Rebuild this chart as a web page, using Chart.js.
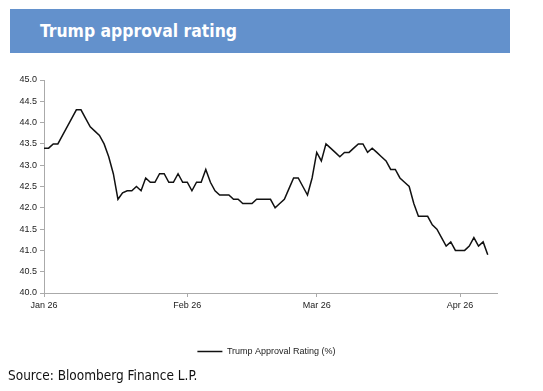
<!DOCTYPE html>
<html>
<head>
<meta charset="utf-8">
<script src="https://cdn.jsdelivr.net/npm/chart.js@4/dist/chart.umd.min.js"></script>
<style>
  body { margin: 0; width: 543px; height: 391px; background: #fff; position: relative; overflow: hidden; }
  #banner { position: absolute; left: 10px; top: 9px; width: 500px; height: 44px; background: #6391cc; }
  #banner span { position: absolute; left: 30px; top: 12px; color: #fff; font: bold 17.4px "DejaVu Sans"; font-stretch: condensed; }
  #wrap { position: absolute; left: 0; top: 0; width: 543px; height: 370px; }
  #source { position: absolute; left: 8px; top: 367px; font: 13.5px "DejaVu Sans"; font-stretch: condensed; color: #111; }
</style>
</head>
<body>
<div id="banner"><span>Trump approval rating</span></div>
<div id="wrap"><canvas id="approvalChart"></canvas></div>
<div id="source">Source: Bloomberg Finance L.P.</div>
<script>
// days since Jan 26, one reading per day
var seriesName = 'Trump Approval Rating (%)';
var approval = [
  43.4, 43.4, 43.5, 43.5, 43.7, 43.9, 44.1, 44.3, 44.3, 44.1,
  43.9, 43.8, 43.7, 43.5, 43.2, 42.8, 42.2, 42.35, 42.4, 42.4,
  42.5, 42.4, 42.7, 42.6, 42.6, 42.8, 42.8, 42.6, 42.6, 42.8,
  42.6, 42.6, 42.4, 42.6, 42.6, 42.9, 42.6, 42.4, 42.3, 42.3,
  42.3, 42.2, 42.2, 42.1, 42.1, 42.1, 42.2, 42.2, 42.2, 42.2,
  42.0, 42.1, 42.2, 42.45, 42.7, 42.7, 42.5, 42.3, 42.7, 43.3,
  43.1, 43.5, 43.4, 43.3, 43.2, 43.3, 43.3, 43.4, 43.5, 43.5,
  43.3, 43.4, 43.3, 43.2, 43.1, 42.9, 42.9, 42.7, 42.6, 42.5,
  42.1, 41.8, 41.8, 41.8, 41.6, 41.5, 41.3, 41.1, 41.2, 41.0,
  41.0, 41.0, 41.1, 41.3, 41.1, 41.2, 40.9
];
var tickDays = [0, 31, 59, 90];
var tickLabels = ['Jan 26', 'Feb 26', 'Mar 26', 'Apr 26'];

var points = approval.map(function (v, i) { return { x: i, y: v }; });

var axisFont = { family: 'Liberation Sans', size: 9 };

// the source centres the legend a bit right of the canvas middle
var legendShift = {
  id: 'legendShift',
  afterLayout: function (chart) {
    var lg = chart.legend;
    lg.left = 36;
    lg.right = chart.chartArea.right;
    lg.width = lg.right - lg.left;
  }
};

var ctx = document.getElementById('approvalChart');
var approvalChart = new Chart(ctx, {
  type: 'line',
  data: {
    datasets: [
      {
        label: seriesName,
        data: points,
        borderColor: '#111',
        borderWidth: 1.5,
        pointRadius: 0,
        tension: 0,
        fill: false
      }
    ]
  },
  options: {
    responsive: true,
    maintainAspectRatio: false,
    animation: false,
    layout: { padding: { top: 80, right: 46, left: 0, bottom: 4 } },
    scales: {
      x: {
        type: 'linear',
        min: 0,
        max: 98,
        afterBuildTicks: function (scale) {
          scale.ticks = tickDays.map(function (d) { return { value: d }; });
        },
        afterFit: function (scale) { scale.height = 44; },
        ticks: {
          autoSkip: false,
          maxRotation: 0,
          padding: 3,
          color: '#222',
          font: axisFont,
          callback: function (v) { return tickLabels[tickDays.indexOf(v)]; }
        },
        grid: { display: true, drawOnChartArea: false, tickLength: 4, color: '#aaa' },
        border: { color: '#aaa', width: 1 }
      },
      y: {
        min: 40,
        max: 45,
        afterFit: function (scale) { scale.width = 44; },
        ticks: {
          stepSize: 0.5,
          padding: 3,
          color: '#222',
          font: axisFont,
          callback: function (v) { return v.toFixed(1); }
        },
        grid: { display: true, drawOnChartArea: false, tickLength: 4, color: '#aaa' },
        border: { color: '#aaa', width: 1 }
      }
    },
    plugins: {
      legend: {
        display: true,
        position: 'bottom',
        labels: {
          usePointStyle: true,
          pointStyle: 'line',
          pointStyleWidth: 25,
          color: '#222',
          font: axisFont,
          padding: 10
        }
      },
      tooltip: { enabled: false }
    }
  },
  plugins: [legendShift]
});
</script>
</body>
</html>
